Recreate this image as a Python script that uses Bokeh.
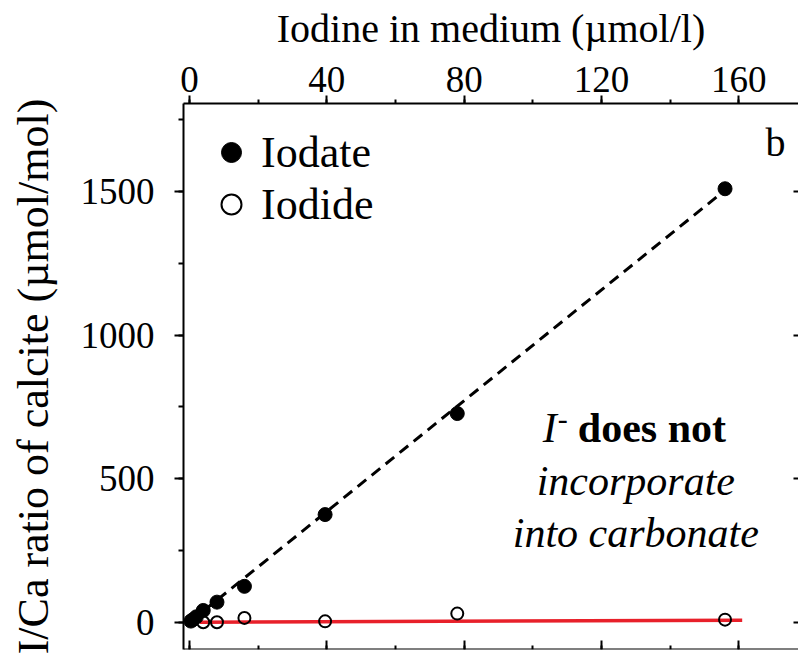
from bokeh.plotting import figure
from bokeh.models import (Range1d, LinearAxis, SingleIntervalTicker, Legend,
                          LegendItem, Label)
from bokeh.embed import file_html
from bokeh.resources import INLINE

# ---- data ----
iodate_x = [0.4, 1, 2, 4, 8, 16, 39.5, 78, 156]
iodate_y = [4, 9, 19, 41, 70, 125, 375, 727, 1510]
iodide_x = [4, 8, 16, 39.5, 78, 156]
iodide_y = [0, 0, 15, 3, 30, 9]
iodate_fit_x = [0, 156]
iodate_fit_y = [0, 1505]
iodide_fit_x = [3, 161]
iodide_fit_y = [0, 7]
x_tick_interval = 40
y_tick_interval = 500
x_title = "Iodine in medium (µmol/l)"
y_title = "I/Ca ratio of calcite (µmol/mol)"
series_names = ["Iodate", "Iodide"]

FONT = "Times New Roman"
X0, X1 = -1.75, 177.4
Y0, Y1 = -95, 1807

p = figure(width=798, height=656, output_backend="svg", toolbar_location=None,
           x_range=Range1d(X0, X1), y_range=Range1d(Y0, Y1),
           x_axis_location=None, y_axis_location=None,
           min_border_left=183, min_border_top=103, min_border_right=0,
           min_border_bottom=7)
p.grid.visible = False
p.outline_line_color = None
p.background_fill_color = "white"
p.border_fill_color = "white"

def style_axis(ax, tick_in, tick_out, minor_in, minor_out):
    ax.axis_line_width = 2
    ax.axis_line_color = "black"
    ax.major_tick_line_width = 2
    ax.minor_tick_line_width = 2
    ax.major_tick_line_color = "black"
    ax.minor_tick_line_color = "black"
    ax.major_tick_in = tick_in
    ax.major_tick_out = tick_out
    ax.minor_tick_in = minor_in
    ax.minor_tick_out = minor_out
    ax.major_label_text_font = FONT
    ax.major_label_text_color = "black"
    ax.axis_label_text_font = FONT
    ax.axis_label_text_font_style = "normal"
    ax.axis_label_text_color = "black"

def hide_labels(ax):
    ax.major_label_text_font_size = "1px"
    ax.major_label_text_color = None
    ax.major_label_standoff = 0

xt = SingleIntervalTicker(interval=x_tick_interval, num_minor_ticks=2)
yt = SingleIntervalTicker(interval=y_tick_interval, num_minor_ticks=2)

top = LinearAxis(ticker=xt, axis_label=x_title)
style_axis(top, 0, 8, 0, 4)
top.major_label_text_font_size = "37px"
top.major_label_standoff = 4
top.axis_label_text_font_size = "40px"
top.axis_label_standoff = 13
p.add_layout(top, "above")

bottom = LinearAxis(ticker=xt, fixed_location=Y0)
style_axis(bottom, 9, 0, 4, 0)
hide_labels(bottom)
p.add_layout(bottom, "below")

left = LinearAxis(ticker=yt, axis_label=y_title)
style_axis(left, 0, 9, 0, 5)
left.major_label_text_font_size = "37px"
left.major_label_standoff = 20
left.axis_label_text_font_size = "44px"
left.axis_label_standoff = 20
p.add_layout(left, "left")

right = LinearAxis(ticker=yt, fixed_location=X1)
style_axis(right, 5, 0, 0, 0)
right.axis_line_color = None
right.minor_tick_line_color = None
hide_labels(right)
p.add_layout(right, "right")

# ---- marks ----
p.line(iodate_fit_x, iodate_fit_y, line_color="black", line_width=3,
       line_dash="11 7")
p.line(iodide_fit_x, iodide_fit_y, line_color="#e8202a", line_width=3.5)
r_iodide = p.scatter(iodide_x, iodide_y, marker="circle", size=12,
                     fill_color=None, line_color="black", line_width=2)
r_iodate = p.scatter(iodate_x, iodate_y, marker="circle", size=14,
                     fill_color="black", line_color="black")

legend = Legend(items=[LegendItem(label=series_names[0], renderers=[r_iodate]),
                       LegendItem(label=series_names[1], renderers=[r_iodide])],
                location="top_left", margin=23, padding=0, spacing=0,
                glyph_width=50, glyph_height=52, label_standoff=5,
                label_text_font=FONT, label_text_font_size="44px",
                label_text_color="black",
                background_fill_alpha=0, border_line_color=None)
p.add_layout(legend, "center")

# ---- annotation texts ----
def add_label(**kw):
    base = dict(text_font=FONT, text_color="black", text_baseline="alphabetic")
    base.update(kw)
    p.add_layout(Label(**base))

ann_x = 130
add_label(x=ann_x, y=675, x_offset=-93, text="I", text_font_style="italic",
          text_font_size="42px", text_align="left")
add_label(x=ann_x, y=675, x_offset=-78, y_offset=9, text="-",
          text_font_size="30px", text_align="left")
add_label(x=ann_x, y=675, x_offset=-58, text="does not",
          text_font_style="bold", text_font_size="42px", text_align="left")
add_label(x=ann_x, y=493, text="incorporate", text_font_style="italic",
          text_font_size="42px", text_align="center")
add_label(x=ann_x, y=312, text="into carbonate", text_font_style="italic",
          text_font_size="42px", text_align="center")
add_label(x=167.8, y=1671, text="b", text_font_size="40px", text_align="left")

open("out.html", "w").write(file_html(p, INLINE))
